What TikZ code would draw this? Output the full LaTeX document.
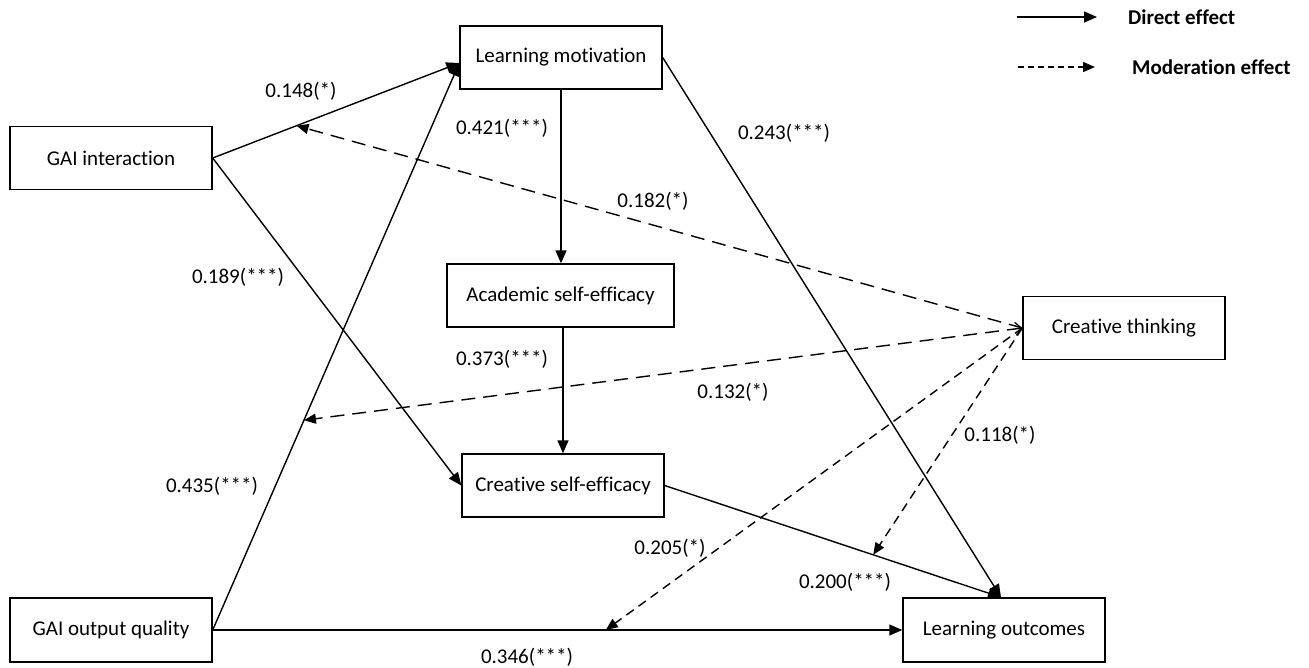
\documentclass[tikz,border=0pt]{standalone}
\usepackage{fontspec}
\setmainfont[Ligatures=NoCommon]{Carlito}
\usetikzlibrary{arrows.meta}
\begin{document}
\begin{tikzpicture}[x=1pt,y=-1pt,
  box/.style={draw,line width=1.4pt,minimum width=202pt,minimum height=63pt,inner sep=0pt,font=\fontsize{21}{25}\selectfont},
  lab/.style={font=\fontsize{21}{25}\selectfont,inner sep=0pt},
  direct/.style={line width=1.4pt,-{Triangle[length=13pt,width=11pt]}},
  moder/.style={line width=1.4pt,dash pattern=on 14pt off 8pt,-{Triangle[length=12pt,width=10pt]}},
  moderb/.style={line width=1.4pt,dash pattern=on 9pt off 6pt,-{Triangle[length=12pt,width=10pt]}},
  legtext/.style={font=\fontsize{21}{25}\selectfont\bfseries,anchor=west,inner sep=0pt}]
\useasboundingbox (0,0) rectangle (1309,667);

% boxes
\node[box] (gi) at (111,158) {GAI interaction};
\node[box,minimum height=64pt] (gq) at (111,630) {GAI output quality};
\node[box] (lm) at (561,57.5) {Learning motivation};
\node[box,minimum width=227pt] (ase) at (560.5,295.5) {Academic self-efficacy};
\node[box] (cse) at (563,485.5) {Creative self-efficacy};
\node[box] (ct) at (1124,328) {Creative thinking};
\node[box,minimum height=64pt] (lo) at (1004,630) {Learning outcomes};

% direct effects
\coordinate (lmin) at ([yshift=-5.5pt]lm.west);
\coordinate (loin) at ([xshift=-3pt]lo.north);
\draw[direct] (gi.east) -- coordinate[pos=0.34] (m1) (lmin);
\draw[direct] (gi.east) -- (cse.west);
\draw[direct] (gq.east) -- coordinate[pos=0.37] (m3) (lmin);
\draw[direct] (gq.east) -- coordinate[pos=0.57] (m4) (lo.west);
\draw[direct] (lm.south) -- (lm.south |- ase.north);
\draw[direct] (cse.north |- ase.south) -- (cse.north);
\draw[direct] (lm.east) -- (loin);
\draw[direct] (cse.east) -- coordinate[pos=0.62] (m8) (loin);

% moderation effects
\draw[moder] (ct.west) -- (m1);
\draw[moder,{Straight Barb[length=6pt,width=13pt,line width=1.3pt]}-{Triangle[length=12pt,width=10pt]}] (ct.west) -- (m3);
\draw[moderb] (ct.west) -- (m8);
\draw[moderb] (ct.west) -- (m4);

% labels
\node[lab] (l148) at (301,91) {0.148(*)};
\node[lab] (l421) at (502,128) {0.421(***)};
\node[lab] (l243) at (784,133) {0.243(***)};
\node[lab] (l182) at (653,201) {0.182(*)};
\node[lab] (l189) at (238,277) {0.189(***)};
\node[lab] (l373) at (502,359) {0.373(***)};
\node[lab] (l132) at (733,392) {0.132(*)};
\node[lab] (l118) at (1000,435) {0.118(*)};
\node[lab] (l435) at (212,486) {0.435(***)};
\node[lab] (l205) at (670,548) {0.205(*)};
\node[lab] (l200) at (845,582) {0.200(***)};
\node[lab] (l346) at (527,657) {0.346(***)};

% legend
\coordinate (ds) at (1017,17);
\coordinate (de) at (1097,17);
\draw[direct] (ds) -- (de);
\node[legtext] (dl) at (1128,17) {Direct effect};
\coordinate (ms) at (1018,67);
\coordinate (me) at (1095,67);
\draw[line width=1.4pt,dash pattern=on 6pt off 4pt,-{Triangle[length=12pt,width=10pt]}] (ms) -- (me);
\node[legtext] (ml) at (1132,67) {Moderation effect};
\end{tikzpicture}
\end{document}
